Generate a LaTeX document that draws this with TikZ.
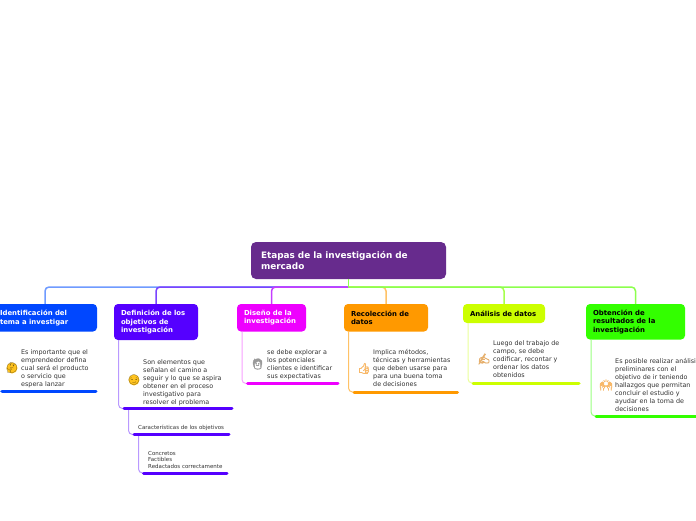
\documentclass[tikz,border=0pt]{standalone}
\usepackage{fontspec}
\setmainfont{DejaVu Sans}
\newfontfamily\emojifont{Noto Emoji}
\newfontfamily\emojibold[FakeBold=3.5]{Noto Emoji}
\definecolor{cRoot}{HTML}{672B8D}
\definecolor{cA}{HTML}{0047FF}\definecolor{cB}{HTML}{5500FF}\definecolor{cC}{HTML}{EE00FF}
\definecolor{cD}{HTML}{FF9900}\definecolor{cE}{HTML}{CCFF00}\definecolor{cF}{HTML}{33FF00}
\definecolor{lA}{HTML}{6F9BFF}\definecolor{lB}{HTML}{7A44FF}\definecolor{lC}{HTML}{C43DFF}
\definecolor{lD}{HTML}{FFC266}\definecolor{lE}{HTML}{A6FF4D}\definecolor{lF}{HTML}{8CFF4D}
\definecolor{sB}{HTML}{B999FF}\definecolor{sC}{HTML}{F8A0FF}\definecolor{sE}{HTML}{EBFF99}\definecolor{sF}{HTML}{99FF80}
\definecolor{txt}{HTML}{333333}\definecolor{smile}{HTML}{FFC31F}\definecolor{hand}{HTML}{F8B868}
\tikzset{
 topic/.style={rounded corners=4pt,inner xsep=7pt,inner ysep=0pt,align=left,font=\fontsize{6.9}{8.5}\selectfont\bfseries},
 rootnode/.style={rounded corners=5pt,fill=cRoot,text=white,inner xsep=10pt,inner ysep=0pt,align=left,minimum width=195pt,text width=175pt,minimum height=37pt,font=\fontsize{8.9}{11}\selectfont\bfseries},
 note/.style={anchor=north west,inner sep=0pt,align=left,text=txt,font=\fontsize{6.4}{8}\selectfont},
 small/.style={anchor=north west,inner sep=0pt,align=left,text=txt,font=\fontsize{5.5}{6.5}\selectfont},
 conn/.style={line width=1.5pt,rounded corners=4pt},
 stem/.style={line width=1pt,rounded corners=4pt},
 under/.style={line width=3pt,line cap=round},
 emoji/.style={inner sep=0pt,font=\fontsize{10}{10}\selectfont\emojifont},
 emojib/.style={inner sep=0pt,font=\fontsize{10.5}{10.5}\selectfont\emojibold},
}
\begin{document}
\begin{tikzpicture}[x=1pt,y=-1pt]
\useasboundingbox (0,0) rectangle (696,520);
\clip (0,0) rectangle (696,520);
\fill[white] (0,0) rectangle (696,520);
\node[rootnode] (root) at (348.5,260.5) {Etapas de la investigación de\\mercado};
\node[topic,fill=cA,text=white,minimum width=104pt,text width=90pt,minimum height=27.5pt] (n1) at (45,317.75) {Identificación del\\tema a investigar};
\node[topic,fill=cB,text=white,minimum width=84pt,text width=70pt,minimum height=36pt] (n2) at (156,322) {Definición de los\\objetivos de\\investigación};
\node[topic,fill=cC,text=white,minimum width=69pt,text width=55pt,minimum height=27.5pt] (n3) at (271.5,317.75) {Diseño de la\\investigación};
\node[topic,fill=cD,text=black,minimum width=84pt,text width=70pt,minimum height=27.5pt] (n4) at (386,317.75) {Recolección de\\datos};
\node[topic,fill=cE,text=black,minimum width=82pt,text width=68pt,minimum height=19pt] (n5) at (504,313.5) {Análisis de datos};
\node[topic,fill=cF,text=black,minimum width=99pt,text width=85pt,minimum height=35.5pt] (n6) at (635.5,321.75) {Obtención de\\resultados de la\\investigación};
% connectors
\coordinate (hub) at (348.5,287);
\draw[conn,lA] (hub) -| (n1.north);
\draw[conn,lB] (hub) -| (n2.north);
\draw[conn,lC] (hub) -| (n3.north);
\draw[conn,lD] (hub) -| (n4.north);
\draw[conn,lE] (hub) -| (n5.north);
\draw[conn,lF] (hub) -| (n6.north);
\draw[conn,lF] (root.south) -- (hub);
% notes
\node[note] (t1) at (21,349) {Es importante que el\\emprendedor defina\\cual será el producto\\o servicio que\\espera lanzar};
\node[note] (t2) at (143,359) {Son elementos que\\señalan el camino a\\seguir y lo que se aspira\\obtener en el proceso\\investigativo para\\resolver el problema};
\node[small] (t2a) at (138,425) {Características de los objetivos};
\node[small] (t2b) at (148,451) {Concretos\\Factibles\\Redactados correctamente};
\node[note] (t3) at (267,349) {se debe explorar a\\los potenciales\\clientes e identificar\\sus expectativas};
\node[note] (t4) at (373,349) {Implica métodos,\\técnicas y herramientas\\que deben usarse para\\para una buena toma\\de decisiones};
\node[note] (t5) at (493,340.5) {Luego del trabajo de\\campo, se debe\\codificar, recontar y\\ordenar los datos\\obtenidos};
\node[note] (t6) at (615,358.2) {Es posible realizar análisis\\preliminares con el\\objetivo de ir teniendo\\hallazgos que permitan\\concluir el estudio y\\ayudar en la toma de\\decisiones};
% emoji
\node[circle,fill=smile,minimum size=11pt,inner sep=0pt] (e1b) at (12,368) {};
\node[emoji,text=black!55!smile] (e1) at (12,368) {🤔};
\node[circle,fill=smile,minimum size=11pt,inner sep=0pt] (e2b) at (134,380) {};
\node[emoji,text=black!55!smile] (e2) at (134,380) {😏};
\node[emojib,text=gray!80] (e3) at (257.5,364) {🧑};
\node[emojib,text=hand] (e4) at (364,368.5) {👍};
\node[emojib,text=hand!85!gray] (e5) at (484,359) {✍};
\node[emojib,text=hand] (e6) at (606,385) {🙌};
% stems and underlines
\coordinate (s1) at (-3,331.5); \coordinate (u1a) at (2,391.5); \coordinate (u1b) at (96,391.5);
\coordinate (s2) at (118.5,340); \coordinate (u2a) at (124,408.5); \coordinate (u2b) at (232,408.5);
\coordinate (b2) at (128.5,408.5); \coordinate (u2c) at (134,434.5); \coordinate (u2d) at (229,434.5);
\coordinate (b3) at (138.5,434.5); \coordinate (u2e) at (143.5,473); \coordinate (u2f) at (227,473);
\coordinate (s3) at (242,331.5); \coordinate (u3a) at (247.5,383.5); \coordinate (u3b) at (338,383.5);
\coordinate (s4) at (348.5,331.5); \coordinate (u4a) at (354,392); \coordinate (u4b) at (457.5,392);
\coordinate (s5) at (468,323); \coordinate (u5a) at (473,383); \coordinate (u5b) at (579,383);
\coordinate (s6) at (591,339.5); \coordinate (u6a) at (596,416); \coordinate (u6b) at (700,416);
\draw[stem,lA] (s1) |- (u1a);
\draw[stem,sB] (s2) |- (u2a);
\draw[stem,sB] (b2) |- (u2c);
\draw[stem,sB] (b3) |- (u2e);
\draw[stem,sC] (s3) |- (u3a);
\draw[stem,lD] (s4) |- (u4a);
\draw[stem,sE] (s5) |- (u5a);
\draw[stem,sF] (s6) |- (u6a);
\draw[under,cA] (u1a) -- (u1b);
\draw[under,cB] (u2a) -- (u2b);
\draw[under,cB] (u2c) -- (u2d);
\draw[under,cB] (u2e) -- (u2f);
\draw[under,cC] (u3a) -- (u3b);
\draw[under,cD] (u4a) -- (u4b);
\draw[under,cE] (u5a) -- (u5b);
\draw[under,cF] (u6a) -- (u6b);
\end{tikzpicture}
\end{document}
